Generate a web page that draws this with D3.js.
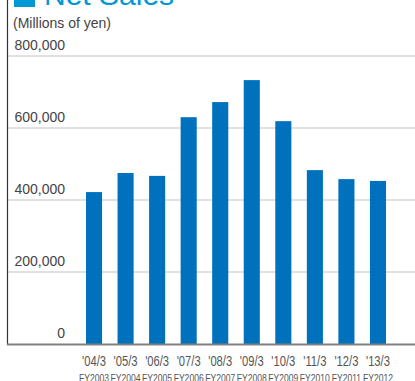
<!DOCTYPE html>
<html>
<head>
<meta charset="utf-8">
<script src="https://cdn.jsdelivr.net/npm/d3@7"></script>
<style>
html,body{margin:0;padding:0;background:#fff;overflow:hidden}
svg{display:block}
</style>
</head>
<body>
<svg id="chart" width="415" height="381"></svg>
<script>
const categories = ["'04/3","'05/3","'06/3","'07/3","'08/3","'09/3","'10/3","'11/3","'12/3","'13/3"];
const fiscalYears = ["FY2003","FY2004","FY2005","FY2006","FY2007","FY2008","FY2009","FY2010","FY2011","FY2012"];
const netSales = [422000, 475000, 467000, 630000, 672000, 733000, 619000, 483000, 458000, 453000];
const yTicks = [0, 200000, 400000, 600000, 800000];

const svg = d3.select("#chart");
const W = 415;
const x = d3.scaleBand().domain(categories).range([78.25, 393.75]).paddingInner(0.49).paddingOuter(0.245);
const y = d3.scaleLinear().domain([0, 800000]).range([344, 56]);

// gridlines
svg.append("g").selectAll("line").data(yTicks.filter(d => d > 0)).join("line")
  .attr("x1", 7).attr("x2", W).attr("y1", d => y(d)).attr("y2", d => y(d))
  .attr("stroke", "#c4c4c4").attr("stroke-width", 1.2);

// y tick labels
const fmt = d3.format(",");
svg.append("g").selectAll("text").data(yTicks).join("text")
  .attr("x", 65).attr("y", d => y(d) - 6)
  .attr("text-anchor", "end")
  .attr("font-family", "Liberation Sans, Arial, sans-serif").attr("font-size", 14)
  .attr("fill", "#444").text(d => fmt(d));

// bars
svg.append("g").selectAll("rect").data(netSales).join("rect")
  .attr("x", (d, i) => x(categories[i]))
  .attr("width", x.bandwidth())
  .attr("y", d => y(d))
  .attr("height", d => y(0) - y(d))
  .attr("fill", "#0071bc");

// left axis line
svg.append("line").attr("x1", 7.5).attr("x2", 7.5).attr("y1", 0).attr("y2", 345)
  .attr("stroke", "#333").attr("stroke-width", 1.2);
// bottom axis
svg.append("line").attr("x1", 7).attr("x2", W).attr("y1", 344.5).attr("y2", 344.5)
  .attr("stroke", "#808080").attr("stroke-width", 2);

// x labels
const xl = svg.append("g");
xl.selectAll("text.cat").data(categories).join("text").attr("class", "cat")
  .attr("transform", d => `translate(${x(d) + x.bandwidth()/2},366) scale(0.8,1)`)
  .attr("text-anchor", "middle")
  .attr("font-family", "Liberation Sans, Arial, sans-serif").attr("font-size", 14)
  .attr("fill", "#555").text(d => d);
xl.selectAll("text.fy").data(fiscalYears).join("text").attr("class", "fy")
  .attr("transform", (d, i) => `translate(${x(categories[i]) + x.bandwidth()/2},382) scale(0.78,1)`)
  .attr("text-anchor", "middle")
  .attr("font-family", "Liberation Sans, Arial, sans-serif").attr("font-size", 11)
  .attr("fill", "#555").text(d => d);

// title
svg.append("rect").attr("x", 14).attr("y", -14).attr("width", 21).attr("height", 21).attr("fill", "#0099d6");
svg.append("text").attr("x", 44).attr("y", 5)
  .attr("font-family", "Liberation Sans, Arial, sans-serif").attr("font-size", 30)
  .attr("fill", "#0099d6").text("Net Sales");
svg.append("text").attr("x", 13).attr("y", 28)
  .attr("font-family", "Liberation Sans, Arial, sans-serif").attr("font-size", 14)
  .attr("fill", "#444").text("(Millions of yen)");
</script>
</body>
</html>
